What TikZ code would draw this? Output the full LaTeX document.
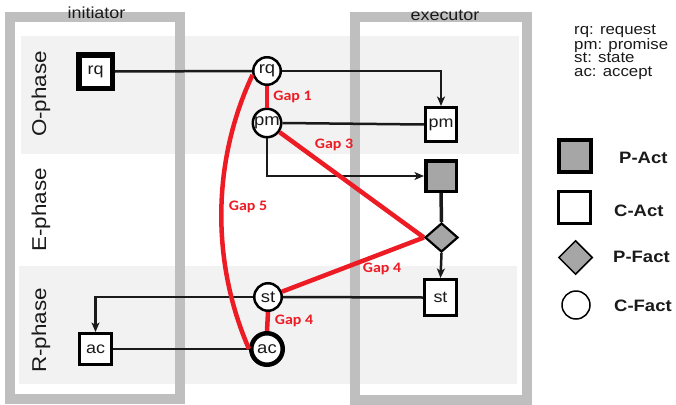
\documentclass[tikz,border=0pt]{standalone}
\usepackage{fontspec}
\setmainfont{Liberation Sans}[FakeStretch=1.12]
\newfontfamily\gapfont{Carlito}[FakeStretch=1.1]
\usetikzlibrary{shapes.geometric,arrows.meta}
\definecolor{frameg}{HTML}{BFBFBF}
\definecolor{bandg}{HTML}{F2F2F2}
\definecolor{gapred}{HTML}{ED1C24}
\definecolor{pgrey}{HTML}{A6A6A6}
\definecolor{ink}{HTML}{1A1A1A}
\begin{document}
\begin{tikzpicture}[x=1pt,y=-1pt,
  every node/.style={text=ink},
  actbox/.style={draw=black, fill=white, rectangle, inner sep=0pt, font=\fontsize{16}{18}\selectfont},
  factcirc/.style={draw=black, fill=white, circle, inner sep=0pt, line width=2.5pt, minimum size=27.5pt, font=\fontsize{16.5}{18}\selectfont},
  conn/.style={draw=ink, line width=2.5pt},
  arr/.style={-{Stealth[length=9.5pt,width=8pt,inset=2.5pt]}},
  gap/.style={draw=gapred, line width=4.5pt},
  gaplabel/.style={text=gapred, font=\gapfont\bfseries\fontsize{14.5}{16}\selectfont, inner sep=0pt},
  frame/.style={draw=frameg, line width=10pt},
  band/.style={fill=bandg},
  phase/.style={rotate=90, font=\fontsize{20}{22}\selectfont, inner sep=0pt},
  title/.style={anchor=base, font=\fontsize{16}{18}\selectfont, inner sep=0pt},
  legtext/.style={anchor=north west, align=left, font=\fontsize{15}{13.4}\selectfont, inner sep=0pt},
  legbold/.style={anchor=west, font=\bfseries\fontsize{16.5}{19}\selectfont, inner sep=0pt},
]
\useasboundingbox (0,0) rectangle (676,404);
\fill[white] (0,0) rectangle (676,404);

% phase bands
\fill[band] (21,36) rectangle (519,154);
\fill[band] (19,266) rectangle (517,384);

% role frames
\draw[frame] (10,17) rectangle (180,399);
\draw[frame] (355,17) rectangle (527,399.5);
\node[title] (tini) at (96.5,19) {initiator};
\node[title] (texe) at (445,21) {executor};

% phase labels
\node[phase] (lo) at (41,94) {O-phase};
\node[phase] (le) at (41,210) {E-phase};
\node[phase] (lr) at (41,330.5) {R-phase};

% nodes
\node[actbox, line width=5.5pt, minimum width=33.5pt, minimum height=33.5pt] (rqI) at (95.5,71.5) {rq};
\node[factcirc] (rqC) at (267,71) {rq};
\node[factcirc] (pmC) at (267,123) {pm};
\node[actbox, line width=3pt, minimum width=31.5pt, minimum height=34pt] (pmE) at (441,124.5) {pm};
\node[actbox, fill=pgrey, line width=3.5pt, minimum width=30.5pt, minimum height=30.5pt] (pact) at (441,176) {};
\node[diamond, draw=black, fill=pgrey, line width=2.2pt, inner sep=0pt, minimum width=33pt, minimum height=29pt] (pfact) at (441.5,237.5) {};
\node[actbox, line width=3pt, minimum width=32pt, minimum height=36pt] (stE) at (440.5,297.5) {st};
\node[factcirc] (stC) at (268,297) {st};
\node[actbox, line width=3pt, minimum width=32pt, minimum height=31pt] (acI) at (95.5,349) {ac};
\node[factcirc, line width=4.5pt, minimum size=31.5pt] (acC) at (267,349) {ac};

% black connectors
\draw[conn] (rqI.east) -- (rqC.west);
\draw[conn,arr] (rqC.east) -| (pmE.north);
\draw[conn] (pmC.east) -- (pmE.west);
\draw[conn,arr] (pmC.south) |- (pact.west);
\draw[conn, line width=3.5pt] (pact.south) -- (pfact.north);
\draw[conn,arr] (pfact.south) -- (stE.north);
\draw[conn] (stC.east) -- (stE.west);
\draw[conn,arr] (stC.west) -| (acI.north);
\draw[conn] (acI.east) -- (acC.west);

% gaps
\draw[gap] (rqC.south) -- (pmC.north);
\draw[gap] (pmC) -- (pfact.west);
\draw[gap] (stC) -- (pfact.west);
\draw[gap] (stC.south) -- (acC.north);
\draw[gap] (rqC.195) .. controls (211.5,162) and (211.5,263) .. (acC.west);
\node[gaplabel] (g1) at (292.5,96.5) {Gap 1};
\node[gaplabel] (g3) at (334,145) {Gap 3};
\node[gaplabel] (g4a) at (382,268.5) {Gap 4};
\node[gaplabel] (g4b) at (294,321) {Gap 4};
\node[gaplabel] (g5) at (248,207) {Gap 5};

% legend
\node[legtext] (leg) at (574,24.5) {rq: request\\pm: promise\\st: state\\ac: accept};
\node[actbox, fill=pgrey, line width=4pt, minimum size=32pt] (lpact) at (575,155.5) {};
\node[actbox, line width=3pt, minimum size=32pt] (lcact) at (574.5,207.5) {};
\node[diamond, draw=black, fill=pgrey, line width=1.5pt, inner sep=0pt, minimum width=34pt, minimum height=34pt] (lpfact) at (575.5,257.5) {};
\node[circle, draw=black, line width=1.5pt, inner sep=0pt, minimum size=28pt] (lcfact) at (576,305) {};
\node[legbold] (tpact) at (619,158) {P-Act};
\node[legbold] (tcact) at (614,211) {C-Act};
\node[legbold] (tpfact) at (613,257) {P-Fact};
\node[legbold] (tcfact) at (614,306) {C-Fact};
\end{tikzpicture}
\end{document}
